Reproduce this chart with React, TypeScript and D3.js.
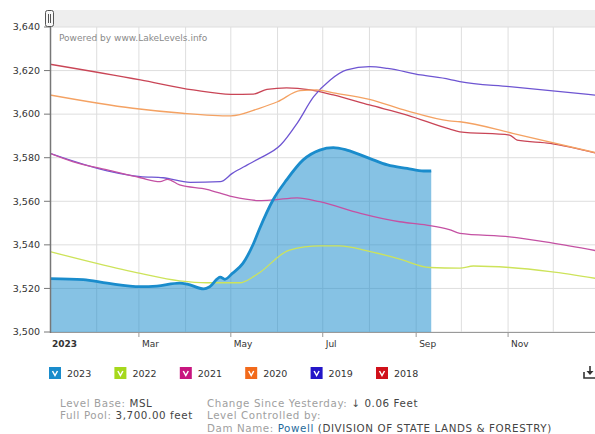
import React from "react";
import * as d3 from "d3";

// ---- data (date "MM-DD" of the reference year, lake level in feet) ----
const years = ["2023", "2022", "2021", "2020", "2019", "2018"];
const legendColors = ["#1a8ccc", "#a6d81c", "#c8157f", "#f26a1b", "#2416c8", "#d0101a"];
const lineColors = ["#1a8ccc", "#cde35a", "#c451a3", "#f4a263", "#6e55d2", "#c94556"];

const level2023: [string, number][] = [
  ["01-01", 3524.5], ["01-23", 3524.0], ["02-08", 3522.4], ["03-02", 3520.8],
  ["03-13", 3521.1], ["03-28", 3522.4], ["04-02", 3522.0], ["04-13", 3519.8],
  ["04-17", 3520.8], ["04-24", 3525.2], ["04-27", 3524.2], ["05-02", 3526.9],
  ["05-09", 3531.5], ["05-16", 3540.5], ["05-20", 3547.3], ["05-29", 3560.6],
  ["06-07", 3569.8], ["06-18", 3579.0], ["06-29", 3583.5], ["07-08", 3584.6],
  ["07-17", 3583.5], ["08-01", 3579.7], ["08-13", 3576.7], ["08-26", 3575.1],
  ["09-06", 3573.9], ["09-11", 3573.9],
];
const level2022: [string, number][] = [
  ["01-01", 3536.9], ["02-01", 3531.5], ["03-02", 3526.9], ["03-28", 3523.5],
  ["04-15", 3522.6], ["05-07", 3522.6], ["05-16", 3525.4], ["05-20", 3527.2],
  ["06-09", 3537.6], ["06-29", 3539.5], ["07-12", 3539.5], ["08-01", 3537.0],
  ["08-21", 3533.5], ["09-10", 3529.6], ["09-30", 3529.3], ["10-09", 3530.3],
  ["11-02", 3529.6], ["11-29", 3527.7], ["12-31", 3524.4],
];
const level2021: [string, number][] = [
  ["01-01", 3582.0], ["01-16", 3578.2], ["02-08", 3574.4], ["03-02", 3570.8],
  ["03-15", 3569.0], ["03-20", 3570.1], ["03-28", 3567.5], ["04-15", 3565.5],
  ["05-02", 3562.1], ["05-20", 3560.3], ["05-29", 3560.6], ["06-14", 3561.6],
  ["06-29", 3559.8], ["07-26", 3554.5], ["08-21", 3550.6], ["09-08", 3549.1],
  ["09-23", 3547.0], ["09-30", 3545.3], ["11-02", 3543.7], ["11-29", 3541.0],
  ["12-31", 3537.1],
];
const level2020: [string, number][] = [
  ["01-01", 3608.8], ["02-25", 3602.7], ["03-30", 3600.4], ["05-01", 3599.2],
  ["05-20", 3602.7], ["06-01", 3605.7], ["06-16", 3610.8], ["06-27", 3611.1],
  ["07-08", 3609.8], ["08-01", 3606.8], ["08-26", 3601.5], ["09-23", 3596.9],
  ["09-30", 3596.5], ["11-04", 3591.2], ["12-31", 3582.0],
];
const level2019: [string, number][] = [
  ["01-01", 3582.0], ["02-08", 3574.0], ["03-02", 3571.3], ["03-17", 3570.8],
  ["04-04", 3568.7], ["04-24", 3569.0], ["05-02", 3572.8], ["05-12", 3576.7],
  ["05-20", 3579.7], ["06-03", 3585.8], ["06-14", 3595.8], ["06-25", 3608.0],
  ["07-06", 3615.7], ["07-17", 3620.3], ["08-01", 3621.8], ["08-13", 3621.0],
  ["09-04", 3618.0], ["09-23", 3616.0], ["09-30", 3614.9], ["11-02", 3612.6],
  ["12-31", 3608.6],
];
const level2018: [string, number][] = [
  ["01-01", 3622.9], ["03-02", 3615.7], ["04-06", 3611.1], ["05-01", 3609.1],
  ["05-16", 3609.2], ["05-25", 3611.4], ["06-07", 3612.1], ["06-23", 3611.1],
  ["07-08", 3608.8], ["08-01", 3604.2], ["08-26", 3599.6], ["09-23", 3593.2],
  ["09-30", 3591.9], ["11-02", 3590.4], ["11-07", 3588.1], ["11-29", 3586.6],
  ["12-31", 3581.8],
];
const seriesData = [level2023, level2022, level2021, level2020, level2019, level2018];
const yTicks = [3500, 3520, 3540, 3560, 3580, 3600, 3620, 3640];

const W = 595;
const H = 434;
const FONT = "'DejaVu Sans', Verdana, sans-serif";

const parse = d3.timeParse("%Y-%m-%d");
const toDate = (s: string) => parse("2023-" + s) as Date;

export default function App() {
  const x = d3.scaleTime().domain([new Date(2023, 0, 1), new Date(2024, 0, 1)]).range([50, 600]);
  const y = d3.scaleLinear().domain([3500, 3640]).range([332, 27]);
  const months = d3.timeMonth.range(new Date(2023, 0, 1), new Date(2024, 0, 1));
  const labelMonths = months.filter((_, i) => i % 2 === 0);
  const fmtY = d3.format(",");
  const fmtM = d3.timeFormat("%b");

  const line = d3
    .line<[string, number]>()
    .x((d) => x(toDate(d[0])))
    .y((d) => y(d[1]))
    .curve(d3.curveMonotoneX);
  const area = d3
    .area<[string, number]>()
    .x((d) => x(toDate(d[0])))
    .y0(y(3500))
    .y1((d) => y(d[1]))
    .curve(d3.curveMonotoneX);

  const drawOrder = [5, 4, 3, 2, 1];

  return (
    <svg
      width={W}
      height={H}
      style={{ position: "absolute", left: 0, top: 0, background: "#fff" }}
      fontFamily={FONT}
    >
      <defs>
        <clipPath id="plot">
          <rect x={50} y={27} width={W - 50} height={305} />
        </clipPath>
      </defs>
      {/* navigator bar */}
      <rect x={50} y={10} width={W - 50} height={17} fill="#eeeeee" />

      {/* grid */}
      {yTicks.map((t) => (
        <line key={"gy" + t} x1={50} x2={W} y1={y(t)} y2={y(t)} stroke="#dedede" strokeWidth={1} />
      ))}
      {months.slice(1).map((m, i) => (
        <line key={"gx" + i} x1={x(m)} x2={x(m)} y1={27} y2={332} stroke="#dedede" strokeWidth={1} />
      ))}

      <text x={59} y={41} fontSize={9} fill="#8a8a8a">Powered by www.LakeLevels.info</text>

      <g clipPath="url(#plot)">
        <path d={area(level2023) || ""} fill="#1a8ccc" fillOpacity={0.53} />
        {drawOrder.map((i) => (
          <path
            key={years[i]}
            d={line(seriesData[i]) || ""}
            fill="none"
            stroke={lineColors[i]}
            strokeWidth={1.3}
          />
        ))}
        <path d={line(level2023) || ""} fill="none" stroke={lineColors[0]} strokeWidth={2.8} />
      </g>

      {/* axes */}
      <line x1={50} x2={W} y1={332.5} y2={332.5} stroke="#9a9a9a" strokeWidth={1} />
      <line x1={50.5} x2={50.5} y1={27} y2={333} stroke="#777" strokeWidth={1.5} />
      {yTicks.map((t) => (
        <g key={"ty" + t}>
          <line x1={44} x2={50} y1={y(t)} y2={y(t)} stroke="#777" strokeWidth={1} />
          <text x={40} y={y(t)} dy="0.35em" textAnchor="end" fontSize={9.5} fill="#333">
            {fmtY(t)}
          </text>
        </g>
      ))}
      {labelMonths.map((m, i) => (
        <g key={"tx" + i}>
          {i > 0 && <line x1={x(m)} x2={x(m)} y1={332} y2={337} stroke="#9a9a9a" strokeWidth={1} />}
          <text
            x={i === 0 ? 52 : x(m) + 3}
            y={347}
            fontSize={9}
            fontWeight={i === 0 ? "bold" : "normal"}
            fill="#333"
          >
            {i === 0 ? "2023" : fmtM(m)}
          </text>
        </g>
      ))}

      {/* navigator handle */}
      <rect x={45.5} y={10.5} width={8} height={16} rx={2} fill="#f7f7f7" stroke="#555" strokeWidth={1} />
      <line x1={48.5} x2={48.5} y1={14} y2={23} stroke="#555" strokeWidth={1} />
      <line x1={50.5} x2={50.5} y1={14} y2={23} stroke="#555" strokeWidth={1} />

      {/* legend */}
      {years.map((yr, i) => {
        const lx = 49 + i * 65.4;
        return (
          <g key={"lg" + yr}>
            <rect x={lx} y={367} width={12} height={12} fill={legendColors[i]} />
            <path
              d={`M${lx + 3.5},${371} L${lx + 6},${375.5} L${lx + 8.5},${371}`}
              fill="none"
              stroke="#fff"
              strokeWidth={1.5}
            />
            <text x={lx + 18} y={377} fontSize={9.5} fill="#333">{yr}</text>
          </g>
        );
      })}

      {/* download icon */}
      <g stroke="#333" strokeWidth={1.6} fill="none">
        <path d="M584,372 L584,378 L595,378" />
        <line x1={590} x2={590} y1={366} y2={373} />
      </g>
      <path d="M586.5,371 L593.5,371 L590,375 Z" fill="#333" />

      {/* info text */}
      <g fontSize={10.3} letterSpacing={0.6}>
        <text x={60} y={406.5} fill="#a0a0a0">
          Level Base: <tspan fill="#444">MSL</tspan>
        </text>
        <text x={60} y={419} fill="#a0a0a0">
          Full Pool: <tspan fill="#444">3,700.00 feet</tspan>
        </text>
        <text x={207} y={406.5} fill="#a0a0a0">
          Change Since Yesterday: <tspan fill="#444">↓ 0.06 Feet</tspan>
        </text>
        <text x={207} y={419} fill="#a0a0a0">
          Level Controlled by:
        </text>
        <text x={207} y={431.5} fill="#a0a0a0">
          Dam Name: <tspan fill="#1f6a9a">Powell</tspan>
          <tspan fill="#444"> (DIVISION OF STATE LANDS &amp; FORESTRY)</tspan>
        </text>
      </g>
    </svg>
  );
}
